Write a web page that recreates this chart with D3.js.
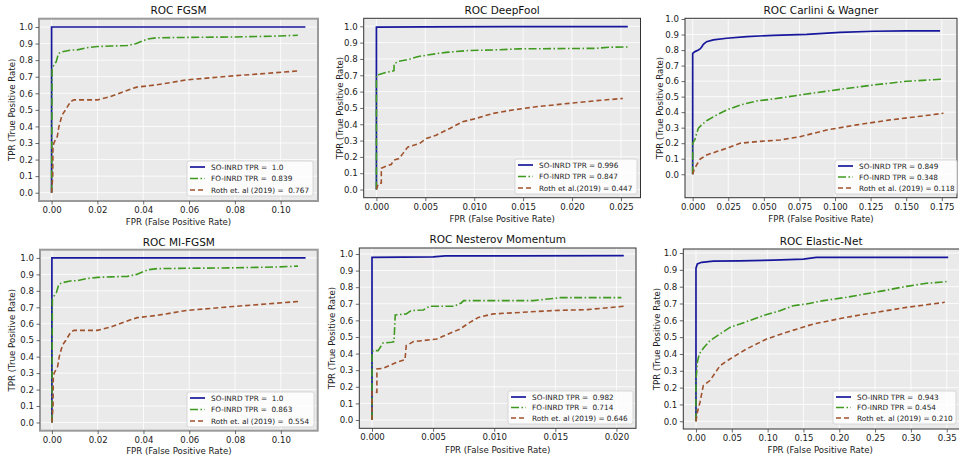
<!DOCTYPE html>
<meta charset="utf-8">
<body style="margin:0;background:#fff">
<script src="https://d3js.org/d3.v7.min.js"></script>
<svg id="fig" width="959" height="459"></svg>
<script>
// ---- chart values ----
var titles = ["ROC FGSM", "ROC DeepFool", "ROC Carlini & Wagner",
              "ROC MI-FGSM", "ROC Nesterov Momentum", "ROC Elastic-Net"];

var legendSO   = ["SO-INRD TPR =  1.0", "SO-INRD TPR = 0.996", "SO-INRD TPR = 0.849",
                  "SO-INRD TPR =  1.0", "SO-INRD TPR =  0.982", "SO-INRD TPR =  0.943"];
var legendFO   = ["FO-INRD TPR =  0.839", "FO-INRD TPR = 0.847", "FO-INRD TPR = 0.348",
                  "FO-INRD TPR =  0.863", "FO-INRD TPR =  0.714", "FO-INRD TPR = 0.454"];
var legendRoth = ["Roth et. al (2019) =  0.767", "Roth et al.(2019) = 0.447", "Roth et al. (2019) = 0.118",
                  "Roth et. al (2019) =  0.554", "Roth et. al (2019) = 0.646", "Roth et. al (2019) = 0.210"];

var yTicks = [0, 0.1, 0.2, 0.3, 0.4, 0.5, 0.6, 0.7, 0.8, 0.9, 1.0];
var xTicksFgsm = [0, 0.02, 0.04, 0.06, 0.08, 0.10];
var xTicksDeep = [0, 0.005, 0.010, 0.015, 0.020, 0.025];
var xTicksCw   = [0, 0.025, 0.050, 0.075, 0.100, 0.125, 0.150, 0.175];
var xTicksNest = [0, 0.005, 0.010, 0.015, 0.020];
var xTicksEn   = [0, 0.05, 0.10, 0.15, 0.20, 0.25, 0.30, 0.35];

// FGSM
var fgsmSO = [[0,0],[0,1],[0.1108,1]];
var fgsmFO = [[0,0],[0.0002,0.75],[0.001,0.77],[0.002,0.79],[0.003,0.84],[0.0046,0.85],[0.008,0.86],
  [0.0112,0.862],[0.0155,0.875],[0.02,0.882],[0.026,0.885],[0.033,0.888],[0.037,0.9],[0.042,0.928],
  [0.046,0.935],[0.059,0.937],[0.08,0.94],[0.098,0.945],[0.1075,0.95]];
var fgsmRoth = [[0,0],[0.0005,0.1],[0.0006,0.27],[0.001,0.3],[0.0025,0.34],[0.0032,0.4],[0.0046,0.47],
  [0.0061,0.5],[0.0083,0.55],[0.0097,0.56],[0.0199,0.56],[0.0257,0.58],[0.0314,0.61],[0.0372,0.637],
  [0.0459,0.651],[0.059,0.681],[0.0793,0.705],[0.0938,0.72],[0.1083,0.736]];

// DeepFool
var deepSO = [[0,0],[0,0.995],[0.005,0.997],[0.0257,0.998]];
var deepFO = [[0,0],[0,0.70],[0.0002,0.703],[0.001,0.718],[0.0018,0.728],[0.0018,0.77],[0.0023,0.786],
  [0.0032,0.796],[0.0044,0.816],[0.0054,0.826],[0.0071,0.84],[0.0095,0.852],[0.0119,0.855],
  [0.0146,0.862],[0.018,0.863],[0.0224,0.865],[0.0238,0.872],[0.0257,0.873]];
var deepRoth = [[0,0],[0.0002,0.037],[0.0005,0.04],[0.0005,0.13],[0.001,0.143],[0.0015,0.153],
  [0.0018,0.18],[0.0023,0.19],[0.0027,0.22],[0.0032,0.26],[0.0044,0.282],[0.0051,0.313],[0.0061,0.333],
  [0.0075,0.374],[0.0088,0.415],[0.0102,0.436],[0.0119,0.466],[0.0139,0.487],[0.0163,0.507],
  [0.0197,0.528],[0.0224,0.544],[0.0252,0.558]];

// Carlini & Wagner
var cwSO = [[0,0],[0,0.779],[0.0016,0.79],[0.004,0.80],[0.0052,0.807],[0.0063,0.82],[0.0075,0.837],
  [0.0098,0.854],[0.0145,0.865],[0.0239,0.876],[0.038,0.887],[0.0567,0.895],[0.0801,0.901],
  [0.1035,0.914],[0.127,0.921],[0.1504,0.924],[0.1738,0.924]];
var cwFO = [[0,0],[0,0.2],[0.0016,0.225],[0.0028,0.264],[0.004,0.296],[0.0063,0.318],[0.0098,0.345],
  [0.0169,0.382],[0.0239,0.414],[0.0333,0.446],[0.045,0.472],[0.0567,0.485],[0.0801,0.517],
  [0.1035,0.547],[0.127,0.575],[0.1504,0.599],[0.175,0.612]];
var cwRoth = [[0,0],[0.0009,0.028],[0.0028,0.06],[0.0052,0.097],[0.0098,0.124],[0.0169,0.146],
  [0.0239,0.167],[0.0333,0.2],[0.045,0.21],[0.0614,0.221],[0.0754,0.242],[0.0942,0.285],
  [0.1152,0.318],[0.1387,0.35],[0.1621,0.376],[0.1762,0.393]];

// MI-FGSM
var miSO = [[0,0],[0,1],[0.1108,1]];
var miFO = [[0,0],[0.0002,0.75],[0.001,0.77],[0.002,0.79],[0.003,0.84],[0.0046,0.85],[0.008,0.86],
  [0.0112,0.862],[0.0155,0.875],[0.02,0.882],[0.026,0.885],[0.033,0.888],[0.037,0.9],[0.042,0.928],
  [0.046,0.935],[0.059,0.937],[0.08,0.94],[0.098,0.945],[0.1075,0.95]];
var miRoth = [[0,0],[0.0005,0.1],[0.0006,0.27],[0.001,0.3],[0.0025,0.34],[0.0032,0.4],[0.0046,0.47],
  [0.0061,0.5],[0.0083,0.55],[0.0097,0.56],[0.0199,0.56],[0.0257,0.58],[0.0314,0.61],[0.0372,0.637],
  [0.0459,0.651],[0.059,0.681],[0.0793,0.705],[0.0938,0.72],[0.1083,0.736]];

// Nesterov Momentum
var nestSO = [[0,0],[0,0.98],[0.005,0.982],[0.006,0.988],[0.0206,0.99]];
var nestFO = [[0,0],[0,0.41],[0.0001,0.418],[0.0005,0.418],[0.0009,0.464],[0.0016,0.468],[0.0018,0.472],
  [0.0019,0.633],[0.0028,0.639],[0.0032,0.659],[0.0042,0.663],[0.0047,0.685],[0.0067,0.685],
  [0.0073,0.705],[0.0075,0.719],[0.0132,0.719],[0.0154,0.737],[0.0204,0.737]];
var nestRoth = [[0,0],[0,0.17],[0.0001,0.17],[0.0004,0.167],[0.0004,0.307],[0.0009,0.311],[0.002,0.347],
  [0.0027,0.363],[0.0028,0.448],[0.0034,0.472],[0.0053,0.488],[0.0058,0.504],[0.0072,0.548],
  [0.008,0.588],[0.0087,0.618],[0.0099,0.639],[0.0148,0.659],[0.0176,0.665],[0.0206,0.685]];

// Elastic-Net
var enSO = [[0,0],[0,0.91],[0.0019,0.935],[0.0079,0.945],[0.0242,0.952],[0.0614,0.954],[0.108,0.958],
  [0.15,0.964],[0.168,0.974],[0.247,0.974],[0.352,0.974]];
var enFO = [[0,0],[0,0.25],[0.0009,0.291],[0.0019,0.35],[0.0046,0.4],[0.0102,0.434],[0.0195,0.479],
  [0.0335,0.519],[0.0474,0.558],[0.0614,0.578],[0.0939,0.628],[0.1172,0.657],[0.1357,0.687],
  [0.1543,0.697],[0.1776,0.717],[0.21,0.737],[0.2566,0.772],[0.2938,0.802],[0.3217,0.82],[0.3496,0.83]];
var enRoth = [[0,0],[0.0019,0.053],[0.0056,0.113],[0.0102,0.212],[0.0195,0.242],[0.0335,0.33],
  [0.0474,0.37],[0.0707,0.43],[0.0986,0.489],[0.1265,0.529],[0.1636,0.578],[0.21,0.618],
  [0.2566,0.651],[0.2938,0.677],[0.3473,0.707]];

// ---- layout (pixels) ----
var panels = [
  {so: fgsmSO, fo: fgsmFO, roth: fgsmRoth, xt: xTicksFgsm, fmt: ".2f",
   box: [39, 18.7, 318, 201], xd: [-0.0055, 0.1163], yd: [-0.05, 1.05],
   titleY: 14, xlabY: 224.5, ylabX: 12, leg: [187, 161, 313, 196], heavy: true},
  {so: deepSO, fo: deepFO, roth: deepRoth, xt: xTicksDeep, fmt: ".3f",
   box: [363.7, 18.3, 640.5, 197.7], xd: [-0.0013, 0.027], yd: [-0.05, 1.049],
   titleY: 14, xlabY: 221.5, ylabX: 340, leg: [515, 159, 637, 194]},
  {so: cwSO, fo: cwFO, roth: cwRoth, xt: xTicksCw, fmt: ".3f",
   box: [685, 18.3, 957, 197.7], xd: [-0.0054, 0.1857], yd: [-0.151, 1.0045],
   titleY: 14, xlabY: 222, ylabX: 660, leg: [835, 160, 957, 194]},
  {so: miSO, fo: miFO, roth: miRoth, xt: xTicksFgsm, fmt: ".2f",
   box: [40, 249.7, 317.7, 430.7], xd: [-0.0052, 0.1161], yd: [-0.05, 1.05],
   titleY: 246, xlabY: 454, ylabX: 12, leg: [187, 392, 314, 427], heavy: true},
  {so: nestSO, fo: nestFO, roth: nestRoth, xt: xTicksNest, fmt: ".3f",
   box: [359.3, 248, 636, 428.3], xd: [-0.00104, 0.0216], yd: [-0.05, 1.036],
   titleY: 243, xlabY: 452.5, ylabX: 332, leg: [508, 391, 633, 424]},
  {so: enSO, fo: enFO, roth: enRoth, xt: xTicksEn, fmt: ".2f",
   box: [683.3, 249, 963, 429], xd: [-0.0177, 0.3727], yd: [-0.046, 1.024],
   titleY: 244.5, xlabY: 453, ylabX: 657, leg: [833, 391, 956, 424]}
];

var colSO = "#17179c", colFO = "#3f9a1f", colRoth = "#a0522d";
var font = "DejaVu Sans";
var svg = d3.select("#fig");

panels.forEach(function(p, i) {
  var l = p.box[0], t = p.box[1], r = p.box[2], b = p.box[3];
  var x = d3.scaleLinear().domain(p.xd).range([l, r]);
  var y = d3.scaleLinear().domain(p.yd).range([b, t]);
  var g = svg.append("g");

  g.append("rect").attr("x", l).attr("y", t).attr("width", r - l).attr("height", b - t)
    .attr("fill", "#eaeaea");

  // grid
  g.selectAll(".gx").data(p.xt).enter().append("line")
    .attr("x1", d => x(d)).attr("x2", d => x(d)).attr("y1", t).attr("y2", b)
    .attr("stroke", "#fff").attr("stroke-width", 0.8);
  g.selectAll(".gy").data(yTicks).enter().append("line")
    .attr("x1", l).attr("x2", r).attr("y1", d => y(d)).attr("y2", d => y(d))
    .attr("stroke", "#fff").attr("stroke-width", 0.8);

  // curves
  var clipId = "clip" + i;
  g.append("clipPath").attr("id", clipId).append("rect")
    .attr("x", l).attr("y", t).attr("width", r - l).attr("height", b - t);
  var line = d3.line().x(d => x(d[0])).y(d => y(d[1]));
  var cg = g.append("g").attr("clip-path", "url(#" + clipId + ")");
  cg.append("path").attr("d", line(p.so)).attr("fill", "none")
    .attr("stroke", colSO).attr("stroke-width", 1.7);
  cg.append("path").attr("d", line(p.fo)).attr("fill", "none")
    .attr("stroke", colFO).attr("stroke-width", 1.6).attr("stroke-dasharray", "8,2.5,1.5,2.5");
  cg.append("path").attr("d", line(p.roth)).attr("fill", "none")
    .attr("stroke", colRoth).attr("stroke-width", 1.6).attr("stroke-dasharray", "5,3");

  // frame
  g.append("rect").attr("x", l).attr("y", t).attr("width", r - l).attr("height", b - t)
    .attr("fill", "none")
    .attr("stroke", p.heavy ? "#9a9a9a" : "#333")
    .attr("stroke-width", p.heavy ? 2 : 1);

  // axes
  var ax = g.append("g").attr("transform", "translate(0," + b + ")")
    .call(d3.axisBottom(x).tickValues(p.xt).tickFormat(d3.format(p.fmt))
      .tickSize(3.5).tickPadding(2.5));
  var ay = g.append("g").attr("transform", "translate(" + l + ",0)")
    .call(d3.axisLeft(y).tickValues(yTicks).tickFormat(d3.format(".1f"))
      .tickSize(3.5).tickPadding(2.5));
  [ax, ay].forEach(function(a) {
    a.select(".domain").remove();
    a.selectAll("line").attr("stroke", "#444").attr("stroke-width", 0.8);
    a.selectAll("text").attr("fill", "#1a1a1a").style("font-family", font).style("font-size", "8.6px");
  });

  // titles and labels
  g.append("text").attr("x", (l + Math.min(r, 959)) / 2).attr("y", p.titleY)
    .attr("text-anchor", "middle").style("font-family", font).style("font-size", "10.5px")
    .attr("fill", "#111").text(titles[i]);
  g.append("text").attr("x", (l + r) / 2 - (i == 5 ? 3 : 0)).attr("y", p.xlabY)
    .attr("text-anchor", "middle").style("font-family", font).style("font-size", "8.6px")
    .attr("fill", "#1a1a1a").text("FPR (False Positive Rate)");
  g.append("text").attr("transform", "translate(" + (p.ylabX + 3) + "," + ((t + b) / 2) + ") rotate(-90)")
    .attr("text-anchor", "middle").style("font-family", font).style("font-size", "8.6px")
    .attr("fill", "#1a1a1a").text("TPR (True Positive Rate)");

  // legend
  var lg = p.leg;
  g.append("rect").attr("x", lg[0]).attr("y", lg[1]).attr("width", lg[2] - lg[0]).attr("height", lg[3] - lg[1])
    .attr("rx", 2).attr("fill", "#fff").attr("fill-opacity", 0.85)
    .attr("stroke", "#cfcfcf").attr("stroke-width", 0.8);
  var entries = [
    {label: legendSO[i], col: colSO, dash: null, w: 1.7},
    {label: legendFO[i], col: colFO, dash: "8,2.5,1.5,2.5", w: 1.6},
    {label: legendRoth[i], col: colRoth, dash: "5,3", w: 1.6}
  ];
  var step = (lg[3] - lg[1] - 12) / 2;
  entries.forEach(function(e, k) {
    var cy = lg[1] + 6 + k * step;
    g.append("line").attr("x1", lg[0] + 3).attr("x2", lg[0] + 18).attr("y1", cy).attr("y2", cy)
      .attr("stroke", e.col).attr("stroke-width", e.w).attr("stroke-dasharray", e.dash);
    g.append("text").attr("x", lg[0] + 24).attr("y", cy + 2.6)
      .style("font-family", font).style("font-size", "7.3px").style("white-space", "pre")
      .attr("fill", "#1a1a1a").text(e.label);
  });
});
</script>
</body>
